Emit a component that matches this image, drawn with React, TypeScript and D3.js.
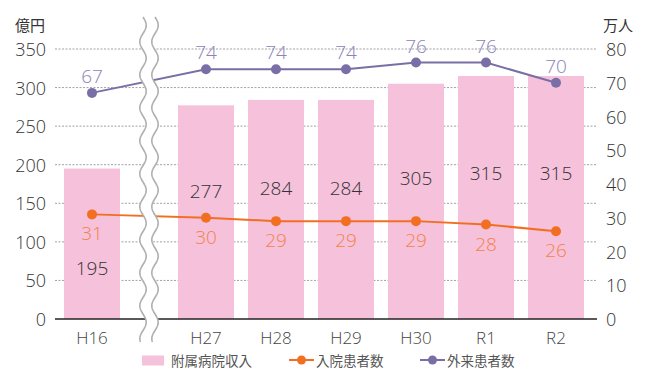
import React, { useEffect, useRef } from 'react';
import * as d3 from 'd3';

const categories = ['H16', 'H27', 'H28', 'H29', 'H30', 'R1', 'R2'];
const revenue = [195, 277, 284, 284, 305, 315, 315];
const inpatients = [31, 30, 29, 29, 29, 28, 26];
const outpatients = [67, 74, 74, 74, 76, 76, 70];
const leftTicks = [0, 50, 100, 150, 200, 250, 300, 350];
const rightTicks = [0, 10, 20, 30, 40, 50, 60, 70, 80];
const legendNames = ['附属病院収入', '入院患者数', '外来患者数'];

const W = 656;
const H = 370;
const PINK = '#f6c1da';
const ORANGE = '#f26f22';
const ORANGE_TXT = '#f2834a';
const PURPLE = '#7a6ea6';
const PURPLE_TXT = '#8c83b8';
const FONT = '"Open Sans", "Noto Sans CJK JP", sans-serif';
const JFONT = '"Noto Sans CJK JP", sans-serif';

export default function App() {
  const ref = useRef<SVGSVGElement>(null);

  useEffect(() => {
    const svg = d3.select(ref.current);
    svg.selectAll('*').remove();

    const left = 55, right = 597, top = 49, bottom = 319;
    const breakShift = 44;

    const band = d3.scaleBand<string>()
      .domain(categories)
      .range([101, 591])
      .paddingInner(0.2)
      .paddingOuter(0.1);
    const xc = (c: string, i: number) => band(c)! + band.bandwidth() / 2 - (i === 0 ? breakShift : 0);

    const yL = d3.scaleLinear().domain([0, 350]).range([bottom, top]);
    const yR = d3.scaleLinear().domain([0, 80]).range([bottom, top]);

    // grid
    svg.append('g').selectAll('line')
      .data(leftTicks.filter(d => d > 0))
      .join('line')
      .attr('x1', left).attr('x2', right)
      .attr('y1', d => yL(d)).attr('y2', d => yL(d))
      .attr('stroke', '#8a8a8a').attr('stroke-width', 0.8)
      .attr('stroke-dasharray', '2,1.5');

    // bars
    svg.append('g').selectAll('rect')
      .data(revenue)
      .join('rect')
      .attr('x', (d, i) => xc(categories[i], i) - band.bandwidth() / 2)
      .attr('width', band.bandwidth())
      .attr('y', d => yL(d))
      .attr('height', d => bottom - yL(d))
      .attr('fill', PINK);

    // axis line
    svg.append('line')
      .attr('x1', left).attr('x2', right)
      .attr('y1', bottom).attr('y2', bottom)
      .attr('stroke', '#222').attr('stroke-width', 1.5);

    // lines
    const lineOf = (vals: number[]) => d3.line<number>()
      .x((d, i) => xc(categories[i], i))
      .y(d => yR(d))(vals);

    svg.append('path').attr('d', lineOf(outpatients)!)
      .attr('fill', 'none').attr('stroke', PURPLE).attr('stroke-width', 2);
    svg.append('path').attr('d', lineOf(inpatients)!)
      .attr('fill', 'none').attr('stroke', ORANGE).attr('stroke-width', 2);

    svg.append('g').selectAll('circle')
      .data(outpatients).join('circle')
      .attr('cx', (d, i) => xc(categories[i], i)).attr('cy', d => yR(d))
      .attr('r', 5).attr('fill', PURPLE);
    svg.append('g').selectAll('circle')
      .data(inpatients).join('circle')
      .attr('cx', (d, i) => xc(categories[i], i)).attr('cy', d => yR(d))
      .attr('r', 5).attr('fill', ORANGE);

    // break mark
    const bx = 149, by0 = 17, by1 = 342, amp = 3.2, period = 33;
    const wave = (off: number) => {
      const pts: [number, number][] = [];
      for (let y = by0; y <= by1; y += 1) pts.push([bx + off + amp * Math.sin((y - by0) / period * 2 * Math.PI), y]);
      return pts;
    };
    const lw = wave(-6), rw = wave(6);
    const area = [...lw, ...rw.slice().reverse()];
    svg.append('path').attr('d', d3.line()(area) + 'Z').attr('fill', '#fff');
    [lw, rw].forEach(p => svg.append('path').attr('d', d3.line()(p)!)
      .attr('fill', 'none').attr('stroke', '#b0b0b0').attr('stroke-width', 1.6));

    // value labels
    const t = svg.append('g').attr('font-family', FONT).attr('font-weight', 300);
    const inLabelY = (d: number) => yR(d) + 19;
    outpatients.forEach((d, i) => {
      t.append('text').attr('x', xc(categories[i], i)).attr('y', yR(d) - 17)
        .attr('text-anchor', 'middle').attr('dominant-baseline', 'central')
        .attr('font-size', 19).attr('fill', PURPLE_TXT).text(d);
    });
    inpatients.forEach((d, i) => {
      t.append('text').attr('x', xc(categories[i], i)).attr('y', inLabelY(d))
        .attr('text-anchor', 'middle').attr('dominant-baseline', 'central')
        .attr('font-size', 19).attr('fill', ORANGE_TXT).text(d);
    });
    revenue.forEach((d, i) => {
      let y = yL(d * 0.6);
      const oy = inLabelY(inpatients[i]);
      if (Math.abs(y - oy) < 25) y = oy + 35;
      t.append('text').attr('x', xc(categories[i], i)).attr('y', y)
        .attr('text-anchor', 'middle').attr('dominant-baseline', 'central')
        .attr('font-size', 19).attr('fill', '#333').text(d);
    });

    // axes text
    leftTicks.forEach(d => t.append('text').attr('x', 46).attr('y', yL(d))
      .attr('text-anchor', 'end').attr('dominant-baseline', 'central')
      .attr('font-size', 18).attr('fill', '#333').text(d));
    rightTicks.forEach(d => t.append('text').attr('x', 606).attr('y', yR(d))
      .attr('text-anchor', 'start').attr('dominant-baseline', 'central')
      .attr('font-size', 18).attr('fill', '#333').text(d));
    t.append('text').attr('x', 15).attr('y', 24).attr('dominant-baseline', 'central')
      .attr('font-family', JFONT).attr('font-weight', 400).attr('font-size', 15).attr('fill', '#333').text('億円');
    t.append('text').attr('x', 603).attr('y', 24).attr('dominant-baseline', 'central')
      .attr('font-family', JFONT).attr('font-weight', 400).attr('font-size', 15).attr('fill', '#333').text('万人');
    categories.forEach((c, i) => t.append('text').attr('x', xc(c, i)).attr('y', 337)
      .attr('text-anchor', 'middle').attr('dominant-baseline', 'central')
      .attr('font-size', 17).attr('fill', '#444').text(c));

    // legend
    const ly = 360;
    const lg = svg.append('g').attr('font-family', JFONT);
    lg.append('rect').attr('x', 142).attr('y', ly - 4.5).attr('width', 22).attr('height', 10).attr('fill', PINK);
    lg.append('text').attr('x', 171).attr('y', ly).attr('dominant-baseline', 'central')
      .attr('font-size', 13.5).attr('fill', '#555').text(legendNames[0]);
    [[289, ORANGE, legendNames[1]], [420, PURPLE, legendNames[2]]].forEach(([x, col, name]) => {
      const x0 = x as number;
      lg.append('line').attr('x1', x0).attr('x2', x0 + 25).attr('y1', ly).attr('y2', ly)
        .attr('stroke', col as string).attr('stroke-width', 2);
      lg.append('circle').attr('cx', x0 + 12.5).attr('cy', ly).attr('r', 4.5).attr('fill', col as string);
      lg.append('text').attr('x', x0 + 27).attr('y', ly).attr('dominant-baseline', 'central')
        .attr('font-size', 13.5).attr('fill', '#555').text(name as string);
    });
  }, []);

  return (
    <svg ref={ref} width={W} height={H}
      style={{ position: 'absolute', left: 0, top: 0, background: '#fff' }} />
  );
}
